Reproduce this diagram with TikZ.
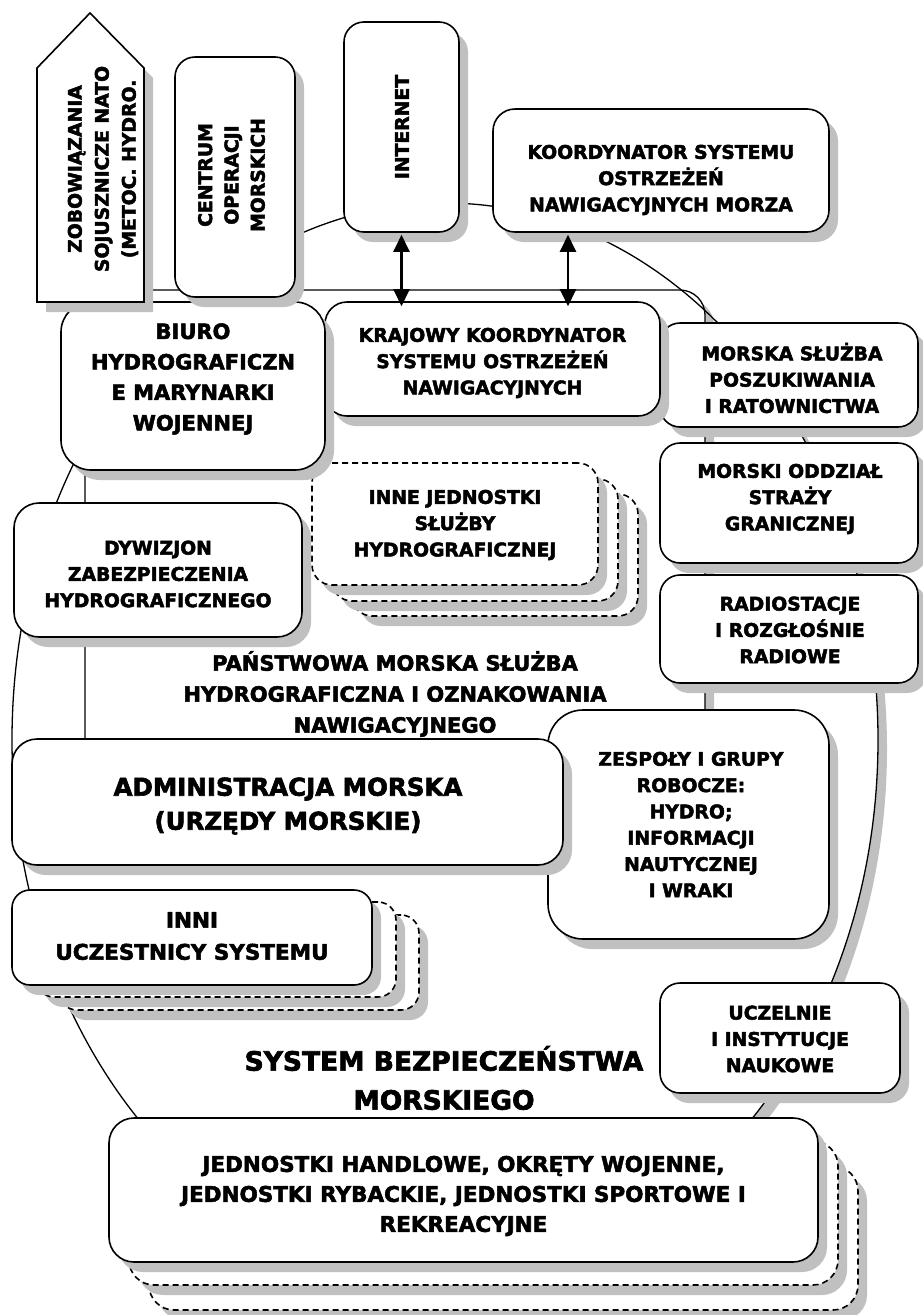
\documentclass[tikz,border=0pt]{standalone}
\usepackage{fontspec}
\setmainfont{DejaVu Sans}[BoldFeatures={FakeBold=2.5}]
\usetikzlibrary{shadows,arrows.meta}
\definecolor{shd}{HTML}{C0C0C0}
\newcommand{\fstd}{\fontsize{18.8}{26.3}\selectfont\bfseries}
\newcommand{\fzob}{\fontsize{18.8}{27}\selectfont\bfseries}
\newcommand{\fbiuro}{\fontsize{21}{30.5}\selectfont\bfseries}
\newcommand{\fpan}{\fontsize{21}{31}\selectfont\bfseries}
\newcommand{\fadm}{\fontsize{24.5}{34}\selectfont\bfseries}
\newcommand{\fsys}{\fontsize{26.5}{39}\selectfont\bfseries}
\newcommand{\fjed}{\fontsize{21.5}{30}\selectfont\bfseries}
\newcommand{\finni}{\fontsize{21.5}{32}\selectfont\bfseries}
\tikzset{
  shadowed/.style={drop shadow={shadow xshift=9pt,shadow yshift=-10pt,fill=shd,opacity=1}},
  box/.style={draw, line width=1.6pt, fill=white, shadowed, inner sep=0pt, rounded corners=20pt},
  dbox/.style={box, dash pattern=on 6pt off 4pt},
  txt/.style={align=center, inner sep=0pt, font=\fstd},
  biarrow/.style={line width=2.4pt, {Triangle[length=17pt,width=16pt]}-{Triangle[length=17pt,width=16pt]}},
  thinline/.style={line width=1.3pt}
}
\begin{document}
\begin{tikzpicture}[x=1pt,y=-1pt]
\useasboundingbox (0,0) rectangle (922,1315);
\fill[white] (0,0) rectangle (922,1315);
% big ellipse: shadow and white body
\fill[shd] (454,749) ellipse [x radius=433, y radius=537];
\fill[white] (445,740) ellipse [x radius=433, y radius=537];
% container of the hydrographic service
\node[draw, thinline, fill=white, shadowed, rounded corners=25pt, inner sep=0pt,
      minimum width=620pt, minimum height=550pt] (cont) at (395,565) {};
% ellipse outline
\draw[thinline] (445,740) ellipse [x radius=433, y radius=537];

% right column
\node[box, minimum width=258pt, minimum height=104pt] (morska) at (789,375) {};
\node[box, minimum width=258pt, minimum height=120pt] (oddz) at (789,503) {};
\node[box, minimum width=258pt, minimum height=108pt] (radio) at (789,629) {};
\node[box, minimum width=240pt, minimum height=110pt] (uczel) at (780,1038) {};

% INNE stack
\node[dbox, minimum width=286pt, minimum height=122pt] (inne3) at (495,555) {};
\node[dbox, minimum width=286pt, minimum height=122pt] (inne2) at (475,540) {};
\node[dbox, minimum width=286pt, minimum height=122pt] (inne) at (455,524) {};

% KRAJOWY and BIURO
\node[box, rounded corners=22pt, minimum width=335pt, minimum height=114pt] (kraj) at (492.5,359) {};
\node[box, rounded corners=30pt, minimum width=264pt, minimum height=168pt] (biuro) at (193,386) {};

% top row
\draw[line width=1.6pt, fill=white, shadowed, line join=miter]
  (37,302) -- (37,68) -- (90,13) -- (144,68) -- (144,302) -- cycle;
\node[box, minimum width=120pt, minimum height=240pt] (centrum) at (235,177) {};
\node[box, minimum width=115pt, minimum height=210pt] (internet) at (401.5,127) {};
\node[box, rounded corners=22pt, minimum width=336pt, minimum height=123pt] (koord) at (661,170.5) {};

% DYWIZJON
\node[box, rounded corners=25pt, minimum width=288pt, minimum height=134pt] (dyw) at (158,570) {};

% ZESPOLY and ADMINISTRACJA
\node[box, rounded corners=35pt, minimum width=281pt, minimum height=229pt] (zesp) at (688.5,824.5) {};
\node[box, rounded corners=25pt, minimum width=551pt, minimum height=126pt] (admin) at (287.5,802) {};

% INNI stack
\node[dbox, rounded corners=18pt, minimum width=360pt, minimum height=95pt] (inni3) at (239,962.5) {};
\node[dbox, rounded corners=18pt, minimum width=360pt, minimum height=95pt] (inni2) at (216,949.5) {};
\node[box, rounded corners=18pt, minimum width=360pt, minimum height=95pt] (inni) at (192,937.5) {};

% JEDNOSTKI stack
\node[dbox, rounded corners=25pt, minimum width=709pt, minimum height=144pt] (jedn3) at (503.5,1238) {};
\node[dbox, rounded corners=25pt, minimum width=709pt, minimum height=144pt] (jedn2) at (483.5,1213) {};
\node[box, rounded corners=25pt, minimum width=709pt, minimum height=144pt] (jedn) at (463.5,1190) {};

% texts
\node[txt, font=\fzob, rotate=90] (zobt) at (103,169) {ZOBOWIĄZANIA\\SOJUSZNICZE NATO\\(METOC. HYDRO.};
\node[txt, rotate=90] (centrumt) at (231.5,175) {CENTRUM\\OPERACJI\\MORSKICH};
\node[txt, rotate=90] (internett) at (402,127) {INTERNET};
\node[txt] (koordt) at (661,180) {KOORDYNATOR SYSTEMU\\OSTRZEŻEŃ\\NAWIGACYJNYCH MORZA};
\node[txt] (krajt) at (492.5,363) {KRAJOWY KOORDYNATOR\\SYSTEMU OSTRZEŻEŃ\\NAWIGACYJNYCH};
\node[txt, font=\fbiuro] (biurot) at (193,379) {BIURO\\HYDROGRAFICZN\\E MARYNARKI\\WOJENNEJ};
\node[txt] (morskat) at (792,378) {MORSKA SŁUŻBA\\POSZUKIWANIA\\I RATOWNICTWA};
\node[txt] (oddzt) at (790,499) {MORSKI ODDZIAŁ\\STRAŻY\\GRANICZNEJ};
\node[txt] (radiot) at (790,630) {RADIOSTACJE\\I ROZGŁOŚNIE\\RADIOWE};
\node[txt] (innet) at (455,525) {INNE JEDNOSTKI\\SŁUŻBY\\HYDROGRAFICZNEJ};
\node[txt] (dywt) at (158,574) {DYWIZJON\\ZABEZPIECZENIA\\HYDROGRAFICZNEGO};
\node[txt, font=\fpan] (pant) at (395,694) {PAŃSTWOWA MORSKA SŁUŻBA\\HYDROGRAFICZNA I OZNAKOWANIA\\NAWIGACYJNEGO};
\node[txt, font=\fadm] (admint) at (288,806) {ADMINISTRACJA MORSKA\\(URZĘDY MORSKIE)};
\node[txt] (zespt) at (691,824.5) {ZESPOŁY I GRUPY\\ROBOCZE:\\HYDRO;\\INFORMACJI\\NAUTYCZNEJ\\I WRAKI};
\node[txt, font=\finni] (innit) at (192,936) {INNI\\UCZESTNICY SYSTEMU};
\node[txt] (uczelt) at (780,1039) {UCZELNIE\\I INSTYTUCJE\\NAUKOWE};
\node[txt, font=\fsys] (syst) at (444,1078) {SYSTEM BEZPIECZEŃSTWA\\MORSKIEGO};
\node[txt, font=\fjed] (jednt) at (463.5,1196) {JEDNOSTKI HANDLOWE, OKRĘTY WOJENNE,\\JEDNOSTKI RYBACKIE, JEDNOSTKI SPORTOWE I\\REKREACYJNE};

% connectors
\draw[biarrow] ([yshift=-2pt]internet.south) -- ([yshift=-5pt]internet.south |- kraj.north);
\coordinate (ka) at ([xshift=-93pt]koord.south);
\draw[biarrow] ([yshift=-2pt]ka) -- ([yshift=-5pt]ka |- kraj.north);
\end{tikzpicture}
\end{document}
